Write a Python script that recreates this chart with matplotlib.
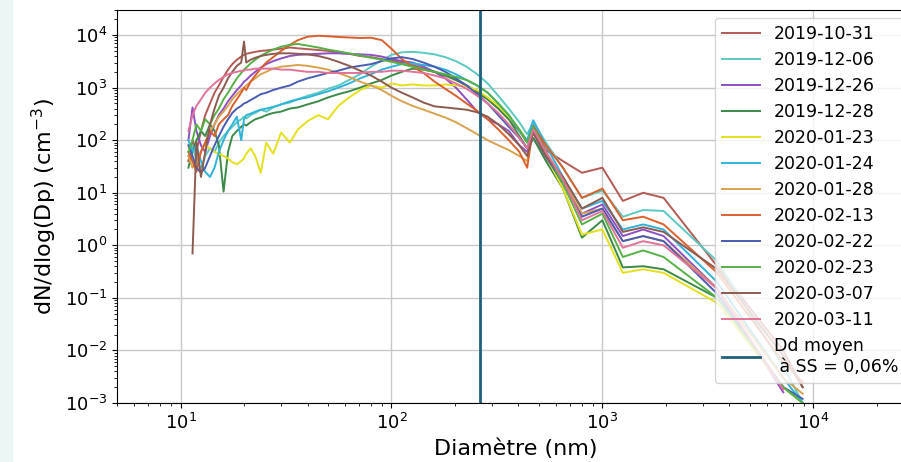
import numpy as np
import matplotlib
matplotlib.use("Agg")
import matplotlib.pyplot as plt
from matplotlib.patches import Rectangle
from matplotlib.ticker import LogLocator, NullFormatter

nan = np.nan

# diametres (nm) : partie SMPS puis partie OPC
d_smps = [10.9, 11.4, 11.9, 12.5, 13.1, 13.8, 14.5, 15.2, 16.0, 16.8, 17.6, 18.5, 19.4, 20.0, 20.5,
          21.5, 22.6, 24.0, 25.5, 27.5, 30, 33, 36, 40, 45, 50, 56, 63, 71, 80, 90, 100, 112, 126,
          142, 160, 180, 202, 227, 255, 286, 321, 360, 404, 440]
d_opc = [470, 540, 650, 800, 1000, 1250, 1560, 1950, 3500, 7200, 8900]

dates = ["2019-10-31", "2019-12-06", "2019-12-26", "2019-12-28", "2020-01-23", "2020-01-24",
         "2020-01-28", "2020-02-13", "2020-02-22", "2020-02-23", "2020-03-07", "2020-03-11"]
colors = ["#b35a55", "#5cc9c1", "#8e4fc4", "#3a8a48", "#e4e01c", "#2fb3d9",
          "#d9a24f", "#d9602c", "#4a5cb3", "#55b145", "#8c5b50", "#e2729a"]

smps_20191031 = [40, 100, 60, 150, 300, 500, 800, 1100, 1600, 2200, 2800, 3400, 3900, 4200, 4400,
                 4600, 4800, 5000, 5100, 5300, 5500, 5800, 5600, 5400, 5200, 5000, 4600, 4400, 4000, 3800,
                 3500, 3300, 3000, 2700, 2300, 2000, 1700, 1400, 1100, 800, 600, 400, 250, 150, 90]
opc_20191031 = [200, 65, 40, 24, 30, 7, 10, 8, 0.4, 0.01, 0.002]

smps_20191206 = [50, 80, 40, 30, 50, 70, 60, 90, 120, 150, 180, 220, 250, 280, 260,
                 300, 330, 380, 350, 420, 480, 520, 600, 700, 800, 950, 1100, 1400, 1800, 2500,
                 3300, 4200, 4700, 4800, 4600, 4300, 3800, 3200, 2500, 1800, 1200, 700, 400, 220, 130]
opc_20191206 = [220, 90, 30, 8, 11, 3.5, 4.7, 4.5, 0.5, 0.005, 0.001]

smps_20191226 = [100, 420, 150, 80, 60, 120, 200, 300, 400, 550, 700, 900, 1100, 1300, 1400,
                 1700, 2000, 2400, 2800, 3200, 3600, 4000, 4200, 4300, 4400, 4500, 4500, 4400, 4300, 4200,
                 3900, 3500, 3200, 3000, 2500, 2000, 1500, 1000, 600, 350, 250, 200, 150, 80, 60]
opc_20191226 = [110, 45, 15, 4, 6, 1.5, 2, 1.5, 0.15, 0.0016, nan]

smps_20191228 = [30, 60, 100, 150, 120, 200, 150, 80, 10.5, 60, 120, 150, 180, 200, 190,
                 220, 250, 270, 300, 330, 350, 400, 420, 480, 550, 650, 750, 850, 1000, 1200,
                 1400, 1700, 2000, 2300, 2200, 2000, 1700, 1400, 1100, 850, 600, 400, 250, 120, 70]
opc_20191228 = [110, 40, 12, 1.4, 3, 0.38, 0.4, 0.35, 0.1, 0.002, 0.001]

smps_20200123 = [nan, nan, nan, nan, 80, 70, 60, 55, 50, 45, 38, 35, 40, 45, 55,
                 70, 50, 24, 90, 55, 140, 90, 160, 230, 300, 250, 450, 650, 900, 1100,
                 1000, 1200, 1100, 1150, 1100, 1100, 1150, 1100, 1050, 900, 650, 450, 280, 160, 100]
opc_20200123 = [140, 50, 12, 1.6, 2, 0.3, 0.35, 0.3, 0.08, 0.002, 0.001]

smps_20200124 = [100, 60, 80, 40, 25, 20, 30, 60, 100, 150, 200, 280, 100, 250, 300,
                 320, 350, 380, 400, 430, 480, 550, 600, 650, 750, 850, 1000, 1200, 1500, 1800,
                 2200, 2500, 2800, 2900, 2700, 2500, 2200, 1800, 1400, 1100, 800, 500, 300, 150, 100]
opc_20200124 = [240, 80, 20, 5, 7, 2, 2.5, 2, 0.2, 0.003, 0.001]

smps_20200128 = [50, 30, 40, 60, 90, 150, 200, 280, 350, 450, 600, 750, 900, 1000, 1100,
                 1300, 1500, 1800, 2000, 2300, 2500, 2600, 2700, 2600, 2400, 2200, 1900, 1600, 1300, 1100,
                 900, 700, 550, 450, 380, 320, 270, 220, 170, 130, 100, 80, 65, 50, 40]
opc_20200128 = [170, 60, 18, 4, 5, 1.2, 1.5, 1.2, 0.15, 0.003, 0.0015]

smps_20200213 = [60, 40, 25, 60, 90, 150, 120, 200, 250, 300, 450, 600, 800, 1000, 900,
                 1300, 1700, 2300, 3000, 3800, 5000, 6500, 8000, 9300, 9700, 9500, 9200, 9000, 8800, 8900,
                 8000, 5500, 3500, 2500, 1900, 1300, 950, 700, 500, 360, 250, 160, 100, 60, 30]
opc_20200213 = [180, 80, 30, 8, 12, 3, 3.5, 2.5, 0.3, 0.006, 0.0025]

smps_20200222 = [80, 50, 30, 24, 30, 50, 80, 120, 180, 250, 330, 400, 450, 500, 520,
                 580, 650, 750, 800, 900, 1000, 1100, 1300, 1500, 1700, 1900, 2100, 2400, 2600, 2800,
                 3200, 3600, 3800, 3500, 3000, 2500, 2000, 1500, 1100, 750, 500, 300, 180, 110, 70]
opc_20200222 = [140, 50, 15, 3.5, 5, 1.2, 1.5, 1.2, 0.12, 0.002, 0.0012]

smps_20200223 = [60, 100, 200, 150, 250, 200, 300, 400, 600, 800, 1100, 1500, 1900, 2200, 2400,
                 2900, 3400, 4000, 4600, 5300, 6000, 6500, 6800, 6300, 5800, 5300, 4900, 4500, 4100, 3700,
                 3400, 3100, 2800, 2500, 2200, 2000, 1800, 1600, 1400, 1100, 800, 500, 300, 160, 90]
opc_20200223 = [180, 60, 15, 2.5, 4, 0.6, 0.8, 0.6, 0.1, 0.002, 0.001]

smps_20200307 = [nan, 0.7, 90, 20, 60, 200, 400, 700, 1000, 1500, 2000, 2600, 3000, 7500, 3000,
                 3400, 3700, 4000, 4200, 4400, 4500, 4500, 4400, 4300, 4000, 3600, 3100, 2600, 2100, 1700,
                 1300, 1000, 800, 650, 520, 440, 420, 400, 380, 340, 280, 200, 130, 80, 50]
opc_20200307 = [140, 50, 20, 5, 8, 1.8, 2.2, 1.8, 0.35, 0.008, 0.002]

smps_20200311 = [150, 300, 450, 600, 800, 1000, 1200, 1400, 1600, 1800, 1900, 2000, 2100, 2100, 2200,
                 2200, 2300, 2300, 2300, 2300, 2200, 2200, 2100, 2000, 2000, 1900, 1900, 1900, 1900, 2000,
                 2000, 2100, 2100, 2000, 1900, 1700, 1500, 1200, 950, 700, 500, 330, 200, 110, 70]
opc_20200311 = [160, 60, 18, 3, 4.5, 0.9, 1.2, 1.0, 0.15, 0.0018, nan]

all_smps = [smps_20191031, smps_20191206, smps_20191226, smps_20191228, smps_20200123, smps_20200124,
            smps_20200128, smps_20200213, smps_20200222, smps_20200223, smps_20200307, smps_20200311]
all_opc = [opc_20191031, opc_20191206, opc_20191226, opc_20191228, opc_20200123, opc_20200124,
           opc_20200128, opc_20200213, opc_20200222, opc_20200223, opc_20200307, opc_20200311]

dd_moyen = 264  # nm

fig = plt.figure(figsize=(9.01, 4.62), dpi=100)
fig.patches.append(Rectangle((0, 0), 12 / 901, 1, transform=fig.transFigure,
                             color="#ecf6f4", zorder=-1))
ax = fig.add_axes([117 / 901, 59 / 462, 797 / 901, 393 / 462])

diam = d_smps + d_opc
for date, col, s, o in zip(dates, colors, all_smps, all_opc):
    ax.plot(diam, s + o, color=col, lw=1.4, label=date)

ax.axvline(dd_moyen, color="#1f5f80", lw=2, label="Dd moyen\n à SS = 0,06%")

ax.set_xscale("log")
ax.set_yscale("log")
ax.set_xlim(5, 3e4)
ax.set_ylim(1e-3, 3e4)
for a in (ax.xaxis, ax.yaxis):
    a.set_major_locator(LogLocator(base=10, numticks=20))
    a.set_minor_locator(LogLocator(base=10, subs=np.arange(2, 10), numticks=20))
    a.set_minor_formatter(NullFormatter())
ax.grid(True, which="major", color="#c8c8c8", lw=1)
ax.tick_params(labelsize=13)
ax.set_xlabel("Diamètre (nm)", fontsize=16)
ax.set_ylabel("dN/dlog(Dp) (cm$^{-3}$)", fontsize=16)

ax.legend(loc="upper left", bbox_to_anchor=(715 / 901, 1 - 18 / 462), bbox_transform=fig.transFigure,
          borderaxespad=0, fontsize=12.5, labelspacing=0.46, handlelength=2.2)

fig.savefig("out.png", dpi=100)
